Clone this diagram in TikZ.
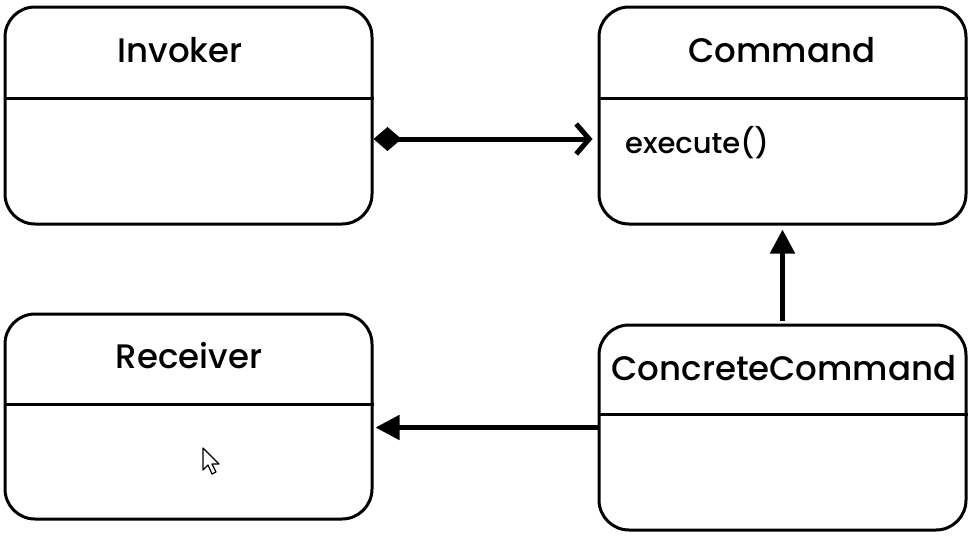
\documentclass[tikz,border=0pt]{standalone}
\usepackage{fontspec}
\setmainfont{Poppins}[UprightFont=* Medium]
\usetikzlibrary{arrows.meta}

\tikzset{
  classbox/.style={draw, line width=3pt, rounded corners=30pt, minimum width=367pt},
  classname/.style={font=\fontsize{34}{40}\selectfont, inner sep=0pt},
  classop/.style={font=\fontsize{29}{34}\selectfont, inner sep=0pt, anchor=west},
  link/.style={line width=5pt}
}

\begin{document}
\begin{tikzpicture}[x=1pt,y=-1pt]
\useasboundingbox (0,0) rectangle (974,538);
% classes
\node[classbox, minimum height=217pt] (inv) at (188.5,115.5) {};
\node[classbox, minimum height=217pt] (cmd) at (782.5,115.5) {};
\node[classbox, minimum height=205pt] (rec) at (188.5,416.5) {};
\node[classbox, minimum height=205pt] (cc) at (782.5,427.5) {};
\node[classname] (invname) at (180,50) {Invoker};
\node[classname] (cmdname) at (782,50) {Command};
\node[classname] (recname) at (189,356) {Receiver};
\node[classname] (ccname) at (784,368) {ConcreteCommand};
\node[classop] (exec) at (625,143) {execute()};
% dividers
\draw[line width=3pt] (inv.west |- 0,98) -- (inv.east |- 0,98);
\draw[line width=3pt] (cmd.west |- 0,98) -- (cmd.east |- 0,98);
\draw[line width=3pt] (rec.west |- 0,404) -- (rec.east |- 0,404);
\draw[line width=3pt] (cc.west |- 0,414) -- (cc.east |- 0,414);
% relations
\draw[link, {Diamond[length=28pt,width=24pt]}-{Straight Barb[length=13pt,width=30pt,line width=5pt]}]
  ([yshift=-23.5pt]inv.east) -- ([yshift=-23.5pt,xshift=-5pt]cmd.west);
\draw[link, -{Triangle[length=24pt,width=24pt]}, shorten >=4pt, shorten <=3pt]
  (cc.north) -- (cmd.south);
\draw[link, -{Triangle[length=24pt,width=24pt]}, shorten >=2pt]
  (cc.west) -- (cc.west -| rec.east);
% mouse pointer
\draw[line width=1.2pt, fill=white, line join=round]
  (203,448) -- (203,470) -- (208,465) -- (212,474) -- (216,472) -- (212,464) -- (219,464) -- cycle;
\end{tikzpicture}
\end{document}
